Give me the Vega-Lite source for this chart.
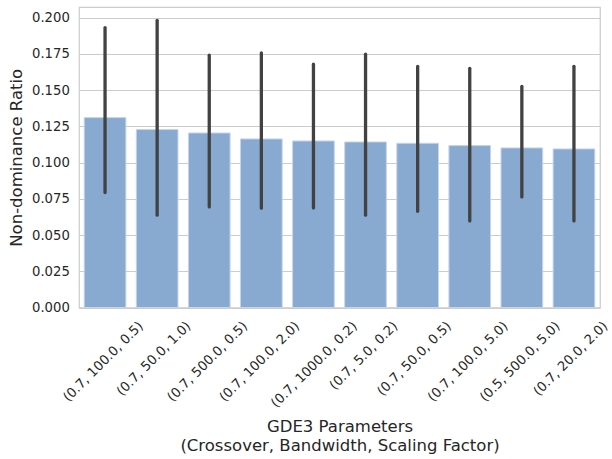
{
  "$schema": "https://vega.github.io/schema/vega-lite/v6.json",
  "autosize": "none",
  "width": 521,
  "height": 300.5,
  "padding": {"left": 79, "top": 7, "right": 12, "bottom": 151.5},
  "background": "white",
  "config": {
    "font": "DejaVu Sans",
    "view": {"stroke": "#cccccc", "strokeWidth": 1.25},
    "axis": {
      "domain": false,
      "ticks": false,
      "tickSize": 0,
      "labelColor": "#262626",
      "titleColor": "#262626",
      "labelFont": "DejaVu Sans",
      "titleFont": "DejaVu Sans",
      "titleFontWeight": "normal",
      "labelFontSize": 13.2,
      "titleFontSize": 16.5
    }
  },
  "data": {
    "values": [
      {"params": "(0.7, 100.0, 0.5)", "ratio": 0.1310, "lo": 0.0793, "hi": 0.1931},
      {"params": "(0.7, 50.0, 1.0)", "ratio": 0.1228, "lo": 0.0637, "hi": 0.1981},
      {"params": "(0.7, 500.0, 0.5)", "ratio": 0.1204, "lo": 0.0694, "hi": 0.1740},
      {"params": "(0.7, 100.0, 2.0)", "ratio": 0.1163, "lo": 0.0685, "hi": 0.1756},
      {"params": "(0.7, 1000.0, 0.2)", "ratio": 0.1149, "lo": 0.0687, "hi": 0.1678},
      {"params": "(0.7, 5.0, 0.2)", "ratio": 0.1142, "lo": 0.0637, "hi": 0.1747},
      {"params": "(0.7, 50.0, 0.5)", "ratio": 0.1133, "lo": 0.0664, "hi": 0.1664},
      {"params": "(0.7, 100.0, 5.0)", "ratio": 0.1117, "lo": 0.0597, "hi": 0.1650},
      {"params": "(0.5, 500.0, 5.0)", "ratio": 0.1101, "lo": 0.0763, "hi": 0.1526},
      {"params": "(0.7, 20.0, 2.0)", "ratio": 0.1094, "lo": 0.0597, "hi": 0.1664}
    ]
  },
  "encoding": {
    "x": {
      "field": "params",
      "type": "nominal",
      "sort": null,
      "scale": {"paddingInner": 0.2, "paddingOuter": 0.1},
      "axis": {
        "title": ["GDE3 Parameters", "(Crossover, Bandwidth, Scaling Factor)"],
        "titleX": 260.5,
        "titleY": 111,
        "titleAlign": "center",
        "titleBaseline": "top",
        "titleLineHeight": 19,
        "labelAngle": -45,
        "labelAlign": "right",
        "labelBaseline": "middle",
        "labelPadding": 16,
        "labelOffset": {
          "condition": [
            {"test": "length(datum.label) >= 18", "value": 41.5},
            {"test": "length(datum.label) == 17", "value": 36},
            {"test": "length(datum.label) == 16", "value": 31.5}
          ],
          "value": 30
        },
        "labelOverlap": false,
        "labelBound": false,
        "grid": false
      }
    }
  },
  "layer": [
    {
      "mark": {"type": "bar", "color": "#88a9d0", "stroke": "#c6d5e9", "strokeWidth": 1},
      "encoding": {
        "y": {
          "field": "ratio",
          "type": "quantitative",
          "scale": {"domain": [0, 0.2073], "nice": false, "zero": true},
          "axis": {
            "title": "Non-dominance Ratio",
            "values": [0, 0.025, 0.05, 0.075, 0.1, 0.125, 0.15, 0.175, 0.2],
            "format": ".3f",
            "labelOverlap": false,
            "labelPadding": 9.7,
            "grid": true,
            "gridColor": "#cccccc",
            "gridWidth": 1.2,
            "titleAngle": -90,
            "titleAlign": "center",
            "titleBaseline": "alphabetic",
            "titleX": -57.3,
            "titleY": 150.3
          }
        }
      }
    },
    {
      "mark": {"type": "rule", "color": "#424242", "strokeWidth": 3.3, "strokeCap": "round"},
      "encoding": {
        "y": {
          "field": "lo",
          "type": "quantitative",
          "axis": {
            "title": "Non-dominance Ratio",
            "values": [0, 0.025, 0.05, 0.075, 0.1, 0.125, 0.15, 0.175, 0.2],
            "format": ".3f",
            "labelOverlap": false,
            "labelPadding": 9.7,
            "grid": true,
            "gridColor": "#cccccc",
            "gridWidth": 1.2,
            "titleAngle": -90,
            "titleAlign": "center",
            "titleBaseline": "alphabetic",
            "titleX": -57.3,
            "titleY": 150.3
          }
        },
        "y2": {"field": "hi"}
      }
    }
  ]
}
